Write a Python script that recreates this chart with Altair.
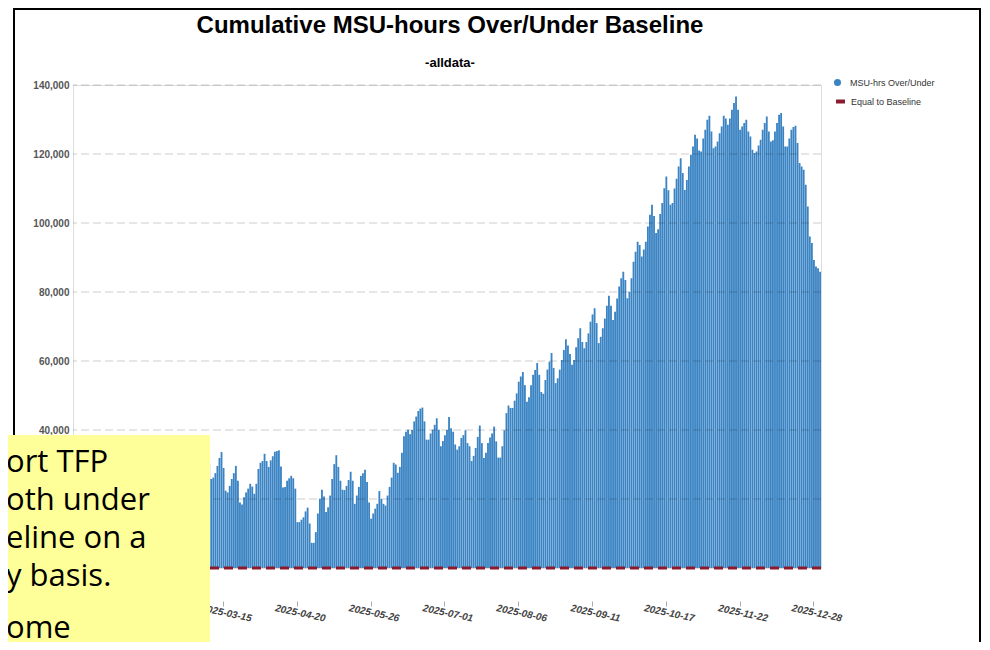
import altair as alt
import pandas as pd

title_text = "Cumulative MSU-hours Over/Under Baseline"
subtitle_text = "-alldata-"
series_names = ["MSU-hrs Over/Under", "Equal to Baseline"]
series_colors = ["#3b84c4", "#8b1a2e"]
start_date = "2025-01-01"
tick_labels = ["2025-01-02", "2025-02-07", "2025-03-15", "2025-04-20", "2025-05-26",
               "2025-07-01", "2025-08-06", "2025-09-11", "2025-10-17", "2025-11-22",
               "2025-12-28"]
grid_values = [20000, 40000, 60000, 80000, 100000, 120000, 140000]
y_ticks = [0, 20000, 40000, 60000, 80000, 100000, 120000, 140000]
box_lines = ["ort TFP", "oth under", "eline on a", "y basis."]
box_last = "ome"

# cumulative MSU-hours over/under baseline, thousands, one value per day of 2025
msu_k = [
    1.0, 2.1, 3.0, 2.2, 1.0, 0.8, 2.0,
    3.4, 4.6, 5.8, 4.7, 3.2, 3.0, 4.3,
    5.9, 7.2, 8.5, 7.1, 5.6, 5.4, 6.8,
    8.3, 9.9, 11.2, 9.8, 8.1, 7.9, 9.6,
    11.4, 12.8, 14.1, 12.5, 10.7, 10.4, 12.0,
    13.9, 15.6, 17.0, 15.2, 13.3, 13.0, 14.8,
    16.7, 18.4, 19.9, 18.1, 16.0, 15.6, 17.5,
    19.6, 21.3, 22.8, 20.8, 18.6, 18.2, 20.4,
    22.6, 24.5, 26.1, 24.0, 21.7, 21.3, 24.0,
    27.0, 29.5, 32.0, 30.1, 25.8, 26.2, 27.5,
    29.6, 31.9, 33.6, 29.0, 22.4, 21.9, 23.8,
    25.8, 27.5, 29.6, 25.3, 19.0, 18.4, 20.5,
    21.9, 23.0, 24.4, 23.6, 21.5, 24.4, 28.7,
    30.5, 31.0, 33.1, 31.0, 29.3, 31.2, 32.4,
    33.7, 33.9, 34.1, 29.4, 23.3, 23.5, 25.3,
    26.0, 26.7, 26.0, 23.0, 13.3, 13.3, 14.0,
    14.7, 16.4, 17.5, 12.9, 7.3, 7.3, 10.4,
    15.8, 20.1, 22.7, 20.7, 16.2, 17.6, 21.0,
    25.8, 30.1, 32.7, 29.3, 25.3, 22.7, 22.6,
    23.8, 25.5, 27.9, 25.3, 18.6, 21.0, 23.5,
    26.7, 27.5, 28.5, 24.9, 19.0, 14.3, 15.8,
    17.2, 18.6, 22.3, 20.0, 18.6, 18.1, 21.0,
    23.5, 26.2, 30.5, 30.0, 27.6, 29.3, 33.4,
    38.2, 39.5, 40.1, 38.8, 40.0, 42.5, 43.9,
    45.5, 46.2, 46.5, 42.5, 37.2, 37.2, 39.0,
    40.1, 41.5, 43.4, 40.1, 35.3, 36.8, 38.5,
    40.0, 43.8, 40.5, 39.5, 35.8, 34.3, 35.3,
    37.7, 38.5, 39.9, 36.2, 35.3, 31.0, 32.5,
    34.8, 38.0, 41.3, 36.2, 31.9, 33.4, 36.2,
    37.8, 39.0, 41.0, 36.7, 32.0, 32.0, 35.3,
    39.9, 44.9, 47.1, 46.4, 46.4, 48.5, 50.6,
    54.0, 55.5, 56.8, 53.0, 48.2, 49.5, 53.0,
    56.0, 57.4, 59.4, 56.0, 51.0, 50.5, 54.5,
    57.5, 59.8, 62.3, 58.0, 53.6, 55.0, 57.5,
    60.3, 63.2, 66.3, 64.5, 62.0, 58.9, 60.3,
    64.0, 66.6, 69.5, 65.5, 63.7, 65.5, 68.0,
    71.4, 73.5, 75.3, 71.0, 65.2, 67.0, 69.5,
    72.3, 76.0, 78.9, 76.0, 71.9, 74.3, 78.1,
    81.6, 84.0, 85.9, 83.5, 78.2, 80.1, 84.0,
    88.8, 91.7, 94.6, 93.6, 90.3, 92.3, 94.6,
    99.0, 102.4, 105.3, 102.0, 97.1, 98.2, 102.6,
    105.8, 110.1, 113.5, 109.5, 105.3, 105.8, 110.0,
    112.8, 116.4, 118.8, 114.5, 109.6, 112.5, 116.4,
    119.8, 122.2, 125.6, 124.5, 121.0, 120.7, 124.5,
    127.0, 129.9, 131.1, 126.5, 121.7, 122.2, 123.6,
    126.0, 128.0, 131.1, 130.3, 128.5, 130.3, 132.8,
    134.8, 136.7, 132.8, 127.0, 128.0, 129.0, 129.9,
    126.5, 125.1, 121.2, 120.3, 120.7, 122.5, 124.1,
    127.0, 129.0, 130.9, 126.5, 123.6, 124.0, 126.5,
    129.0, 131.4, 131.9, 128.0, 122.2, 122.2, 124.5,
    127.0, 127.8, 128.2, 123.2, 117.4, 116.4, 115.4,
    111.1, 104.8, 96.1, 94.2, 89.3, 87.4, 86.9,
    85.9,
]

dates = pd.date_range(start_date, periods=len(msu_k), freq="D").strftime("%Y-%m-%d")
df = pd.DataFrame({"date": dates, "value": [v * 1000 for v in msu_k],
                   "series": series_names[0]})

y_axis = alt.Axis(values=y_ticks, labelExpr="format(datum.value, ',')", title=None,
                  grid=False, ticks=False, domain=False,
                  labelFont="Liberation Sans", labelFontSize=10,
                  labelFontWeight="bold", labelColor="#555", labelPadding=4)
y_scale = alt.Scale(domain=[0, 140000], nice=False)

bars = alt.Chart(df).mark_bar().encode(
    x=alt.X("date:O", sort=None,
            scale=alt.Scale(paddingInner=0.1, paddingOuter=0),
            axis=alt.Axis(values=tick_labels, title=None, labelAngle=12,
                          labelAlign="center", labelBaseline="top",
                          labelFont="Liberation Sans", labelFontStyle="italic",
                          labelFontWeight="bold", labelFontSize=10, labelColor="#444",
                          tickSize=5, tickColor="#aaa", domain=False, offset=33,
                          labelPadding=2, labelOffset=4, grid=False, labelOverlap=False)),
    y=alt.Y("value:Q", scale=y_scale, axis=y_axis),
    color=alt.Color("series:N",
                    scale=alt.Scale(domain=[series_names[0]], range=[series_colors[0]]),
                    legend=alt.Legend(title=None, orient="none", legendX=760, legendY=-7,
                                      symbolType="circle", symbolSize=50,
                                      symbolStrokeWidth=0, labelFont="Liberation Sans",
                                      labelFontSize=9, labelColor="#333", labelOffset=8)),
)

grid_over = alt.Chart(pd.DataFrame({"value": grid_values})).mark_rule(
    color="black", opacity=0.2, strokeDash=[8, 4], strokeWidth=1
).encode(y=alt.Y("value:Q", scale=y_scale, axis=y_axis))

baseline = alt.Chart(pd.DataFrame({"value": [0], "series": [series_names[1]]})).mark_rule(
    strokeDash=[9, 5], strokeWidth=3
).encode(
    y=alt.Y("value:Q", scale=y_scale, axis=y_axis),
    color=alt.Color("series:N",
                    scale=alt.Scale(domain=[series_names[1]], range=[series_colors[1]]),
                    legend=alt.Legend(title=None, orient="none", legendX=761, legendY=10,
                                      symbolType="stroke", symbolSize=80,
                                      symbolStrokeWidth=4, symbolDash=[1, 0],
                                      labelFont="Liberation Sans", labelFontSize=9,
                                      labelColor="#333", labelOffset=4)),
)

one = pd.DataFrame({"k": [0]})
frame = alt.Chart(one).mark_rect(filled=False, stroke="black", strokeWidth=2).encode(
    x=alt.value(-59), x2=alt.value(907), y=alt.value(-76), y2=alt.value(640))

title_mark = alt.Chart(one).mark_text(
    align="center", baseline="alphabetic", font="Liberation Sans", fontSize=24,
    fontWeight="bold", color="black"
).encode(x=alt.value(377), y=alt.value(-52), text=alt.value(title_text))

subtitle_mark = alt.Chart(one).mark_text(
    align="center", baseline="alphabetic", font="Liberation Sans", fontSize=13,
    fontWeight="bold", color="black"
).encode(x=alt.value(377), y=alt.value(-18), text=alt.value(subtitle_text))

box = alt.Chart(one).mark_rect(color="#ffff99").encode(
    x=alt.value(-80), x2=alt.value(137), y=alt.value(350), y2=alt.value(640))

box_text = alt.Chart(one).mark_text(
    align="left", baseline="alphabetic", font="Open Sans", fontSize=31,
    lineHeight=38.3, color="black"
).encode(x=alt.value(-67), y=alt.value(386.5), text=alt.value(box_lines))

box_text2 = alt.Chart(one).mark_text(
    align="left", baseline="alphabetic", font="Open Sans", fontSize=31, color="black"
).encode(x=alt.value(-67), y=alt.value(553), text=alt.value(box_last))

chart = alt.layer(
    bars, grid_over, baseline, frame, title_mark, subtitle_mark, box, box_text, box_text2
).resolve_scale(
    color="independent"
).properties(
    width=748, height=483,
    autosize=alt.AutoSizeParams(type="none"),
    padding={"left": 65, "top": 77, "right": 161, "bottom": 74},
).configure_view(strokeWidth=0).configure(background="white")

chart.save("out.html", embed_options={"renderer": "svg", "actions": False})
